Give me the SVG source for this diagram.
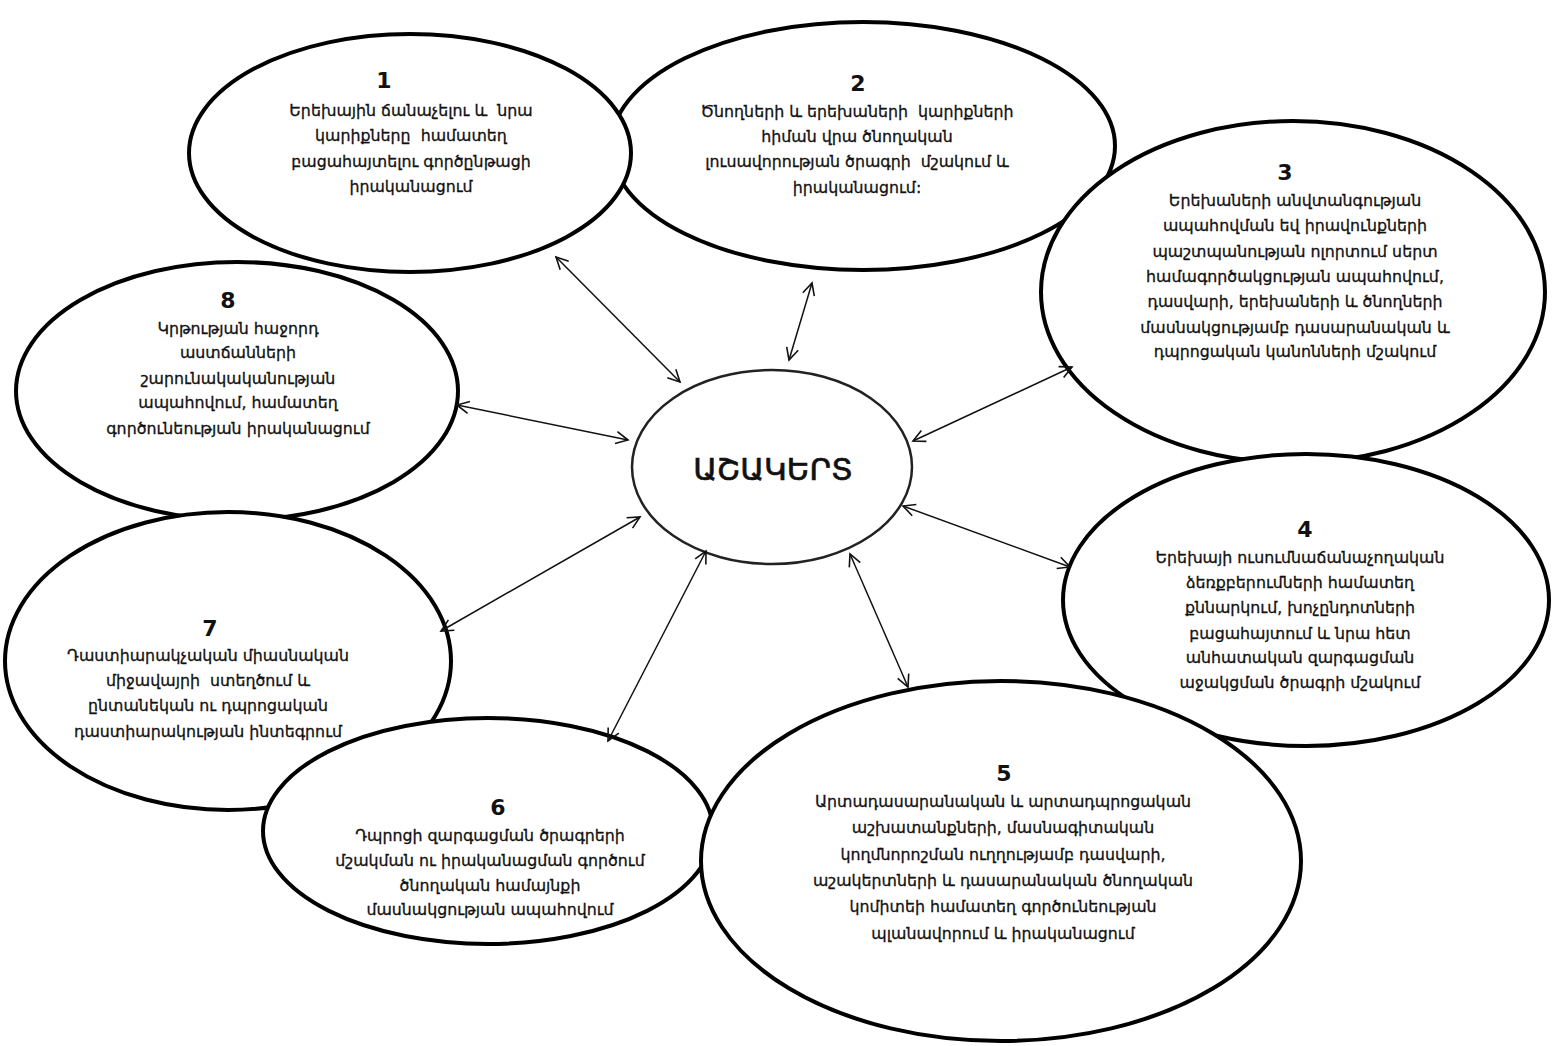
<svg xmlns="http://www.w3.org/2000/svg" width="1552" height="1046" viewBox="0 0 1552 1046">
<style>
.e{fill:#fff;stroke:#000;stroke-width:4}
.c{fill:#fff;stroke:#222;stroke-width:2.5}
.t{font-family:"DejaVu Sans",sans-serif;font-size:15.8px;text-anchor:middle;fill:#111;stroke:#111;stroke-width:0.3;white-space:pre}
.n{font-family:"DejaVu Sans",sans-serif;font-size:22px;font-weight:bold;text-anchor:middle;fill:#111}
.a{stroke:#111;stroke-width:1.5;fill:none;marker-start:url(#h);marker-end:url(#h)}
</style>
<defs>
<marker id="h" markerUnits="userSpaceOnUse" markerWidth="16" markerHeight="16" refX="13" refY="7" orient="auto-start-reverse" viewBox="0 0 16 14">
<path d="M1,1 L13,7 L1,13" fill="none" stroke="#111" stroke-width="1.6"/>
</marker>
</defs>
<rect width="1552" height="1046" fill="#fff"/>
<g id="node2"><ellipse class="e" cx="863" cy="146" rx="252" ry="124"/>
<text class="n" x="858" y="91">2</text>
<text class="t"><tspan x="857" y="117">Ծնողների և երեխաների  կարիքների</tspan><tspan x="857" y="142">հիման վրա ծնողական</tspan><tspan x="857" y="167">լուսավորության ծրագրի  մշակում և</tspan><tspan x="857" y="193">իրականացում:</tspan></text></g>
<g id="node1"><ellipse class="e" cx="410" cy="153" rx="221" ry="119"/>
<text class="n" x="384" y="88">1</text>
<text class="t"><tspan x="411" y="116">Երեխային ճանաչելու և  նրա</tspan><tspan x="411" y="141">կարիքները  համատեղ</tspan><tspan x="411" y="167">բացահայտելու գործընթացի</tspan><tspan x="411" y="192">իրականացում</tspan></text></g>
<g id="node3"><ellipse class="e" cx="1293" cy="292" rx="252" ry="171"/>
<text class="n" x="1285" y="180">3</text>
<text class="t"><tspan x="1295" y="206">Երեխաների անվտանգության</tspan><tspan x="1295" y="231">ապահովման եվ իրավունքների</tspan><tspan x="1295" y="257">պաշտպանության ոլորտում սերտ</tspan><tspan x="1295" y="282">համագործակցության ապահովում,</tspan><tspan x="1295" y="307">դասվարի, երեխաների և ծնողների</tspan><tspan x="1295" y="333">մասնակցությամբ դասարանական և</tspan><tspan x="1295" y="357">դպրոցական կանոնների մշակում</tspan></text></g>
<g id="node8"><ellipse class="e" cx="237" cy="391" rx="221" ry="129"/>
<text class="n" x="228" y="308">8</text>
<text class="t"><tspan x="238" y="334">Կրթության հաջորդ</tspan><tspan x="238" y="358">աստճանների</tspan><tspan x="238" y="384">շարունակականության</tspan><tspan x="238" y="408">ապահովում, համատեղ</tspan><tspan x="238" y="434">գործունեության իրականացում</tspan></text></g>
<g id="node7"><ellipse class="e" cx="228" cy="661" rx="223" ry="149"/>
<text class="n" x="210" y="636">7</text>
<text class="t"><tspan x="208" y="661">Դաստիարակչական միասնական</tspan><tspan x="208" y="686">միջավայրի  ստեղծում և</tspan><tspan x="208" y="711">ընտանեկան ու դպրոցական</tspan><tspan x="208" y="737">դաստիարակության ինտեգրում</tspan></text></g>
<g id="node4"><ellipse class="e" cx="1306" cy="600" rx="243" ry="146"/>
<text class="n" x="1305" y="537">4</text>
<text class="t"><tspan x="1300" y="563">Երեխայի ուսումնաճանաչողական</tspan><tspan x="1300" y="588">ձեռքբերումների համատեղ</tspan><tspan x="1300" y="613">քննարկում, խոչընդոտների</tspan><tspan x="1300" y="639">բացահայտում և նրա հետ</tspan><tspan x="1300" y="663">անհատական զարգացման</tspan><tspan x="1300" y="688">աջակցման ծրագրի մշակում</tspan></text></g>
<g id="node6"><ellipse class="e" cx="488" cy="831" rx="225" ry="113"/>
<text class="n" x="498" y="815">6</text>
<text class="t"><tspan x="490" y="841">Դպրոցի զարգացման ծրագրերի</tspan><tspan x="490" y="866">մշակման ու իրականացման գործում</tspan><tspan x="490" y="891">ծնողական համայնքի</tspan><tspan x="490" y="915">մասնակցության ապահովում</tspan></text></g>
<g id="node5"><ellipse class="e" cx="1001" cy="861" rx="300" ry="180"/>
<text class="n" x="1004" y="781">5</text>
<text class="t"><tspan x="1003" y="807">Արտադասարանական և արտադպրոցական</tspan><tspan x="1003" y="833">աշխատանքների, մասնագիտական</tspan><tspan x="1003" y="860">կողմնորոշման ուղղությամբ դասվարի,</tspan><tspan x="1003" y="886">աշակերտների և դասարանական ծնողական</tspan><tspan x="1003" y="912">կոմիտեի համատեղ գործունեության</tspan><tspan x="1003" y="939">պլանավորում և իրականացում</tspan></text></g>
<g id="center"><ellipse class="c" cx="772" cy="467" rx="140" ry="97"/>
<text x="773" y="480" style="font-family:'DejaVu Sans',sans-serif;font-size:31px;text-anchor:middle;fill:#111;stroke:#111;stroke-width:0.7">ԱՇԱԿԵՐՏ</text></g>
<g id="connectors">
<line class="a" x1="556" y1="257" x2="680" y2="382"/>
<line class="a" x1="812" y1="283" x2="789" y2="360"/>
<line class="a" x1="1072" y1="367" x2="913" y2="441"/>
<line class="a" x1="457" y1="405" x2="628" y2="440"/>
<line class="a" x1="903" y1="506" x2="1070" y2="567"/>
<line class="a" x1="441" y1="631" x2="640" y2="517"/>
<line class="a" x1="608" y1="741" x2="706" y2="551"/>
<line class="a" x1="850" y1="554" x2="908" y2="687"/>
</g>
</svg>
